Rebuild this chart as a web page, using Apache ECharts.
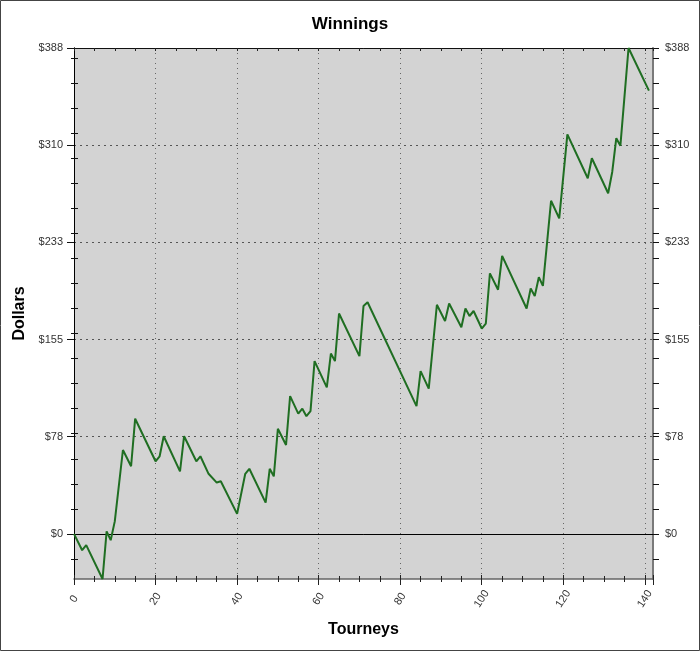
<!DOCTYPE html>
<html>
<head>
<meta charset="utf-8">
<title>Winnings</title>
<script src="https://cdn.jsdelivr.net/npm/echarts@6/dist/echarts.min.js"></script>
<style>
  html, body { margin: 0; padding: 0; background: #fff; }
  #chart { width: 700px; height: 651px; }
</style>
</head>
<body>
<div id="chart"></div>
<script>
// tourney number at each turning point of the running total
var tourneys = [0, 2, 3, 7, 8, 9, 10, 12, 14, 15, 20, 21, 22, 26, 27, 30, 31, 33, 35, 36,
  40, 42, 43, 47, 48, 49, 50, 52, 53, 55, 56, 57, 58, 59, 62, 63, 64, 65, 70, 71,
  72, 84, 85, 87, 89, 91, 92, 95, 96, 97, 98, 100, 101, 102, 104, 105, 111, 112, 113, 114,
  115, 117, 119, 121, 126, 127, 131, 132, 133, 134, 136, 141];
// running winnings in dollars
var dollars = [0, -13, -9, -36, 2, -5, 10, 67, 54, 92, 58, 62, 78, 50, 78, 58, 62, 48, 41, 42,
  16, 48, 52, 25, 52, 46, 84, 71, 110, 96, 100, 94, 98, 138, 117, 144, 138, 176, 142, 182,
  185, 102, 130, 116, 183, 170, 184, 165, 180, 174, 178, 164, 168, 208, 195, 222, 180, 196, 190, 205,
  198, 266, 252, 319, 284, 300, 272, 289, 316, 310, 388, 354];

var yMajorTicks = [0, 77.6, 155.2, 232.8, 310.4, 388];
var yMinorTicks = [-20, 0, 20, 40, 60, 80, 100, 120, 140, 160, 180, 200, 220, 240, 260, 280, 300, 320, 340, 360, 380];

var FONT = '"Liberation Sans", Arial, sans-serif';

var points = tourneys.map(function (t, i) { return [t, dollars[i]]; });

function dollarLabel(v) {
  return '$' + Math.round(v);
}

var baseY = {
  type: 'value',
  min: -36,
  max: 388,
  axisLine: { show: true, onZero: false, lineStyle: { color: '#000', width: 1 } },
  axisLabel: { show: false },
  axisTick: { show: false },
  splitLine: { show: false }
};

var chart = echarts.init(document.getElementById('chart'));
chart.setOption({
  animation: false,
  backgroundColor: '#fff',
  textStyle: { fontFamily: FONT },
  title: {
    text: 'Winnings',
    left: 'center',
    top: 11,
    textStyle: { fontSize: 17, fontWeight: 'bold', color: '#000', fontFamily: FONT }
  },
  graphic: [{
    type: 'rect',
    shape: { x: 0.5, y: 0.5, width: 699, height: 650 },
    style: { fill: null, stroke: '#444', lineWidth: 1 },
    silent: true
  }],
  grid: {
    left: 74,
    right: 47,
    top: 48,
    bottom: 72,
    show: true,
    backgroundColor: '#d3d3d3',
    borderWidth: 0
  },
  xAxis: [{
    type: 'value',
    position: 'bottom',
    min: 0,
    max: 142,
    interval: 20,
    name: 'Tourneys',
    nameLocation: 'middle',
    nameGap: 43,
    nameTextStyle: { fontSize: 16, fontWeight: 'bold', color: '#000', fontFamily: FONT },
    axisLine: { onZero: false, lineStyle: { color: '#666', width: 1.5 } },
    axisTick: { length: 6, lineStyle: { color: '#222' } },
    minorTick: { show: true, splitNumber: 4, length: 3, lineStyle: { color: '#222' } },
    axisLabel: {
      rotate: 57, margin: 20, align: 'center', verticalAlign: 'middle',
      fontSize: 11, color: '#333', fontFamily: FONT
    },
    splitLine: { show: true, lineStyle: { color: '#666', type: [1, 4], width: 1 } }
  }, {
    type: 'value',
    position: 'top',
    min: 0,
    max: 142,
    interval: 20,
    axisLine: { onZero: false, lineStyle: { color: '#111', width: 1 } },
    axisTick: { inside: true, length: 3, lineStyle: { color: '#222' } },
    minorTick: { show: true, splitNumber: 4, length: 3, lineStyle: { color: '#222' } },
    axisLabel: { show: false },
    splitLine: { show: false }
  }, {
    type: 'value',
    position: 'bottom',
    min: 0,
    max: 142,
    interval: 20,
    axisLine: { show: false, onZero: false },
    axisTick: { inside: true, length: 4, lineStyle: { color: '#222' } },
    minorTick: { show: true, splitNumber: 4, length: 3, lineStyle: { color: '#222' } },
    axisLabel: { show: false },
    splitLine: { show: false }
  }],
  yAxis: [Object.assign({}, baseY, {
    position: 'left',
    name: 'Dollars',
    nameLocation: 'middle',
    nameRotate: 90,
    nameGap: 40,
    nameTextStyle: { fontSize: 16, fontWeight: 'bold', color: '#000', fontFamily: FONT },
    axisLabel: {
      show: true, customValues: yMajorTicks, formatter: dollarLabel,
      margin: 11, fontSize: 11, color: '#333', fontFamily: FONT
    },
    axisTick: { show: true, customValues: yMajorTicks, length: 7, lineStyle: { color: '#111' } },
    splitLine: { show: true, lineStyle: { color: '#555', type: [2, 4], width: 1 } }
  }), Object.assign({}, baseY, {
    position: 'left',
    axisTick: { show: true, inside: true, customValues: yMinorTicks, length: 4, lineStyle: { color: '#111' } }
  }), Object.assign({}, baseY, {
    position: 'left',
    axisLine: { show: false, onZero: false },
    axisTick: { show: true, customValues: yMinorTicks, length: 3, lineStyle: { color: '#111' } }
  }), Object.assign({}, baseY, {
    position: 'right',
    axisLine: { show: true, onZero: false, lineStyle: { color: '#7a7a7a', width: 2 } },
    axisLabel: {
      show: true, customValues: yMajorTicks, formatter: dollarLabel,
      margin: 12, fontSize: 11, color: '#333', fontFamily: FONT
    },
    axisTick: { show: true, customValues: yMinorTicks.concat(yMajorTicks), length: 6, lineStyle: { color: '#111' } }
  })],
  series: [{
    type: 'line',
    data: points,
    showSymbol: false,
    symbol: 'none',
    lineStyle: { color: '#1f6e22', width: 2 },
    z: 5,
    markLine: {
      silent: true,
      symbol: 'none',
      label: { show: false },
      lineStyle: { color: '#000', type: 'solid', width: 1 },
      data: [{ yAxis: 0 }]
    }
  }]
});
</script>
</body>
</html>
